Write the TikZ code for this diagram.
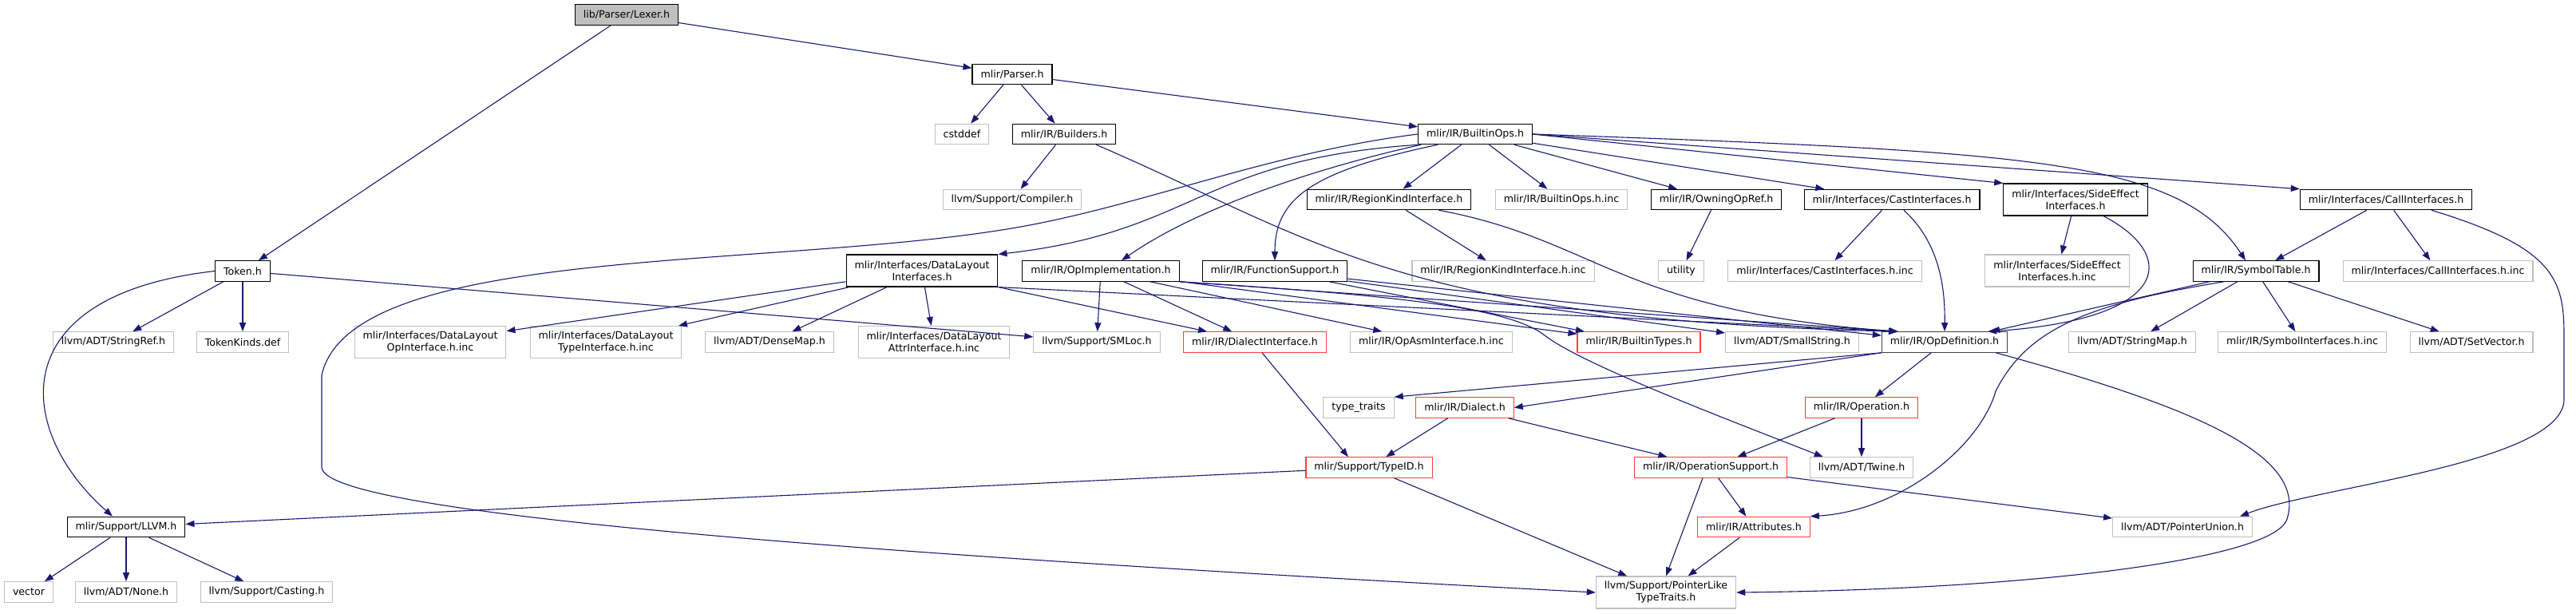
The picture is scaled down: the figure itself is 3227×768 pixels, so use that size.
\documentclass[tikz,border=0pt]{standalone}
\usepackage{fontspec}
\setmainfont{DejaVu Sans}
\usepackage{tikz}
\usetikzlibrary{arrows.meta}
\usepackage{xcolor}
\definecolor{edgeblue}{HTML}{191970}
\definecolor{extgray}{HTML}{BFBFBF}
\definecolor{incred}{HTML}{FF3C3C}

\begin{document}
\begin{tikzpicture}[x=1pt,y=-1pt,
    f/.style={rectangle,draw=black,line width=1.1pt,fill=white,font=\fontsize{12.6}{15}\selectfont,inner xsep=10.5pt,inner ysep=0pt,minimum height=25.5pt,align=center},
    g/.style={f,draw=extgray},
    r/.style={f,draw=incred},
    two/.style={minimum height=40pt},
    e/.style={-{Triangle[length=11pt,width=8pt]},line width=1.1pt,edgeblue}
  ]
    \useasboundingbox (0,0) rectangle (3227,768);
    \node[f,fill=extgray] (lexer) at (785,18.5) {lib/Parser/Lexer.h};
    \node[f] (parser) at (1268,93) {mlir/Parser.h};
    \node[g] (cstddef) at (1205,168) {cstddef};
    \node[f] (builders) at (1333,168) {mlir/IR/Builders.h};
    \node[f] (builtinops) at (1848,168) {mlir/IR/BuiltinOps.h};
    \node[g] (compiler) at (1268,250) {llvm/Support/Compiler.h};
    \node[f] (regionkind) at (1740,250) {mlir/IR/RegionKindInterface.h};
    \node[g] (bopsinc) at (1956,250) {mlir/IR/BuiltinOps.h.inc};
    \node[f] (owning) at (2150,250) {mlir/IR/OwningOpRef.h};
    \node[f] (cast) at (2370,250) {mlir/Interfaces/CastInterfaces.h};
    \node[f,two] (sideeff) at (2600,250) {mlir/Interfaces/SideEffect\\Interfaces.h};
    \node[f] (call) at (2989,250) {mlir/Interfaces/CallInterfaces.h};
    \node[f] (token) at (304,339.5) {Token.h};
    \node[f,two] (dli) at (1155,339) {mlir/Interfaces/DataLayout\\Interfaces.h};
    \node[f] (opimpl) at (1379,339.5) {mlir/IR/OpImplementation.h};
    \node[f] (funcsup) at (1597,339.5) {mlir/IR/FunctionSupport.h};
    \node[g] (rkinc) at (1883,339.5) {mlir/IR/RegionKindInterface.h.inc};
    \node[g] (utility) at (2106,339.5) {utility};
    \node[g] (castinc) at (2286,339.5) {mlir/Interfaces/CastInterfaces.h.inc};
    \node[g,two] (seinc) at (2577,339) {mlir/Interfaces/SideEffect\\Interfaces.h.inc};
    \node[f] (symtab) at (2826,339.5) {mlir/IR/SymbolTable.h};
    \node[g] (callinc) at (3054,339.5) {mlir/Interfaces/CallInterfaces.h.inc};
    \node[g] (stringref) at (142,428.5) {llvm/ADT/StringRef.h};
    \node[g] (tokkinds) at (304,428.5) {TokenKinds.def};
    \node[g,two] (opifinc) at (539,428.5) {mlir/Interfaces/DataLayout\\OpInterface.h.inc};
    \node[g,two] (tyifinc) at (759,428.5) {mlir/Interfaces/DataLayout\\TypeInterface.h.inc};
    \node[g] (densemap) at (964,428.5) {llvm/ADT/DenseMap.h};
    \node[g,two] (atifinc) at (1170,428.5) {mlir/Interfaces/DataLayout\\AttrInterface.h.inc};
    \node[g] (smloc) at (1374,428.5) {llvm/Support/SMLoc.h};
    \node[r] (dialiface) at (1572,428.5) {mlir/IR/DialectInterface.h};
    \node[g] (opasminc) at (1793,428.5) {mlir/IR/OpAsmInterface.h.inc};
    \node[r] (btypes) at (2053,428.5) {mlir/IR/BuiltinTypes.h};
    \node[g] (smallstr) at (2245,428.5) {llvm/ADT/SmallString.h};
    \node[f,draw=black!75] (opdef) at (2436,428.5) {mlir/IR/OpDefinition.h};
    \node[g] (stringmap) at (2671,428.5) {llvm/ADT/StringMap.h};
    \node[g] (syminc) at (2884,428.5) {mlir/IR/SymbolInterfaces.h.inc};
    \node[g] (setvec) at (3096,428.5) {llvm/ADT/SetVector.h};
    \node[g] (typetraits) at (1702,510.5) {type\_traits};
    \node[r] (dialect) at (1835,510.5) {mlir/IR/Dialect.h};
    \node[r] (operation) at (2332,510.5) {mlir/IR/Operation.h};
    \node[r] (typeid) at (1715,585.5) {mlir/Support/TypeID.h};
    \node[r] (opsupport) at (2143,585.5) {mlir/IR/OperationSupport.h};
    \node[g] (twine) at (2332,585.5) {llvm/ADT/Twine.h};
    \node[f] (llvmh) at (158,660) {mlir/Support/LLVM.h};
    \node[r] (attrs) at (2197,660) {mlir/IR/Attributes.h};
    \node[g] (ptrunion) at (2734,660) {llvm/ADT/PointerUnion.h};
    \node[g] (vector) at (36,741.5) {vector};
    \node[g] (none) at (158,741.5) {llvm/ADT/None.h};
    \node[g] (casting) at (334,741.5) {llvm/Support/Casting.h};
    \node[g,two] (ptrlike) at (2087,742) {llvm/Support/PointerLike\\TypeTraits.h};
    \draw[e] (lexer)--(token); \draw[e] (lexer)--(parser);
    \draw[e] (parser)--(cstddef); \draw[e] (parser)--(builders); \draw[e] (parser)--(builtinops);
    \draw[e] (builders)--(compiler);
    \draw[e] ([xshift=-25pt]builders.south east) .. controls (1650,300) and (1750,400) .. ([xshift=20pt]opdef.north west);
    \draw[e] (builtinops)--(regionkind); \draw[e] (builtinops)--(bopsinc);
    \draw[e] (builtinops)--(owning); \draw[e] (builtinops)--(cast);
    \draw[e] (builtinops.east)--(sideeff.north west); \draw[e] (builtinops.east)--(call.north west);
    \draw[e] (builtinops.east) .. controls (2550,190) and (2730,200) .. ([xshift=-13pt]symtab.north);
    \draw[e] (builtinops.south west) .. controls (1500,200) and (1500,290) .. (dli.north east);
    \draw[e] ([xshift=4pt]builtinops.south west) .. controls (1650,210) and (1500,260) .. ([xshift=26pt]opimpl.north);
    \draw[e] ([xshift=25pt]builtinops.south west) .. controls (1640,215) and (1597,250) .. (funcsup.north);
    \draw[e] (builtinops.west) .. controls (1600,190) and (1450,250) .. (1300,280) .. controls (1000,340) and (440,300) .. (403,470) -- (403,585) .. controls (403,640) and (1000,690) .. (ptrlike.west);
    \draw[e] (regionkind)--(rkinc);
    \draw[e] ([xshift=-41pt]regionkind.south east) .. controls (2000,300) and (2030,390) .. ([xshift=21pt]opdef.north west);
    \draw[e] (owning)--(utility); \draw[e] (cast)--(castinc);
    \draw[e] ([xshift=15pt]cast.south) .. controls (2425,300) and (2437,350) .. (opdef.north);
    \draw[e] (sideeff)--(seinc);
    \draw[e] ([xshift=35pt]sideeff.south) .. controls (2730,320) and (2720,400) .. ([xshift=-25pt]opdef.north east);
    \draw[e] (call)--(symtab); \draw[e] (call)--(callinc);
    \draw[e] ([xshift=57pt]call.south) .. controls (3200,310) and (3212,350) .. (3212,420) -- (3212,500) .. controls (3212,580) and (2900,610) .. ([xshift=-16pt]ptrunion.north east);
    \draw[e] (symtab)--(opdef); \draw[e] (symtab)--(stringmap);
    \draw[e] (symtab)--(syminc); \draw[e] (symtab)--(setvec);
    \draw[e] ([xshift=-40pt]symtab.south) .. controls (2620,380) and (2540,410) .. (2500,490) .. controls (2480,560) and (2380,640) .. (attrs.north east);
    \draw[e] (token)--(stringref); \draw[e] (token)--(tokkinds); \draw[e] (token)--(smloc);
    \draw[e] (token.west) .. controls (0,370) and (20,540) .. ([xshift=-17pt]llvmh.north);
    \draw[e] (dli)--(opifinc); \draw[e] (dli)--(tyifinc);
    \draw[e] (dli)--(densemap); \draw[e] (dli)--(atifinc);
    \draw[e] (dli.south east)--([xshift=30pt]dialiface.north west);
    \draw[e] (dli.south east)--([xshift=21pt]opdef.north west);
    \draw[e] (opimpl)--(smloc); \draw[e] (opimpl)--(dialiface); \draw[e] (opimpl)--(opasminc);
    \draw[e] (opimpl)--(btypes); \draw[e] (opimpl.south east)--([xshift=21pt]opdef.north west);
    \draw[e] (opimpl.south east) .. controls (1750,370) and (1890,385) .. (1935,420) .. controls (1980,455) and (2150,520) .. ([xshift=17pt]twine.north west);
    \draw[e] (funcsup)--(btypes); \draw[e] (funcsup)--(opdef); \draw[e] (funcsup)--(smallstr);
    \draw[e] ([xshift=9pt]dialiface.south)--([xshift=-26pt]typeid.north);
    \draw[e] (opdef.south west)--(typetraits.north east); \draw[e] (opdef.south west)--(dialect.east);
    \draw[e] (opdef)--(operation);
    \draw[e] ([xshift=-15pt]opdef.south east) .. controls (2750,510) and (2890,570) .. (2865,650) .. controls (2850,700) and (2550,738) .. (ptrlike.east);
    \draw[e] (dialect)--(typeid); \draw[e] (dialect)--(opsupport);
    \draw[e] (operation)--(opsupport); \draw[e] (operation)--(twine);
    \draw[e] (typeid)--(llvmh); \draw[e] (typeid)--(ptrlike);
    \draw[e] (opsupport)--(attrs); \draw[e] ([xshift=-10pt]opsupport.south)--(ptrlike.north);
    \draw[e] (opsupport)--(ptrunion);
    \draw[e] (attrs)--(ptrlike);
    \draw[e] (llvmh)--(vector); \draw[e] (llvmh)--(none); \draw[e] (llvmh)--(casting);
  \end{tikzpicture}
\end{document}
